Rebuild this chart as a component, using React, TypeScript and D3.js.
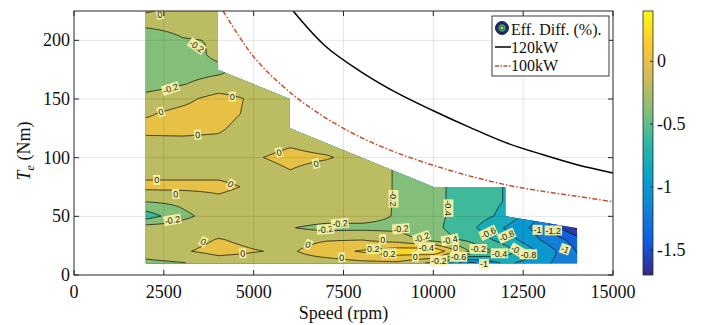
import React from "react";
import * as d3 from "d3";

const W = 707, H = 325;

// grid of measured efficiency differences (%)
const SPEEDS = [2000, 3000, 4000, 5000, 6000, 7000, 8000, 9000, 10000, 11000, 12000, 13000, 14000];
const TORQUES = [10, 20, 30, 40, 50, 62.5, 75, 87.5, 100, 112.5, 125, 137.5, 150, 162.5, 175, 187.5, 200, 212.5, 225];
const EFF_DIFF = [
  [-0.25, -0.21, -0.1, -0.1, -0.1, -0.1, -0.05, -0.04, -0.25, -1.05, -0.75, -0.95, -1.15],
  [-0.1, -0.02, 0.06, 0.01, -0.03, 0.12, 0.22, 0.32, 0.38, -0.22, -0.5, -0.85, -1.22],
  [-0.1, -0.08, 0.01, -0.05, -0.08, -0.02, -0.01, -0.1, -0.3, -0.45, -0.7, -1.02, -1.3],
  [-0.1, -0.1, -0.1, -0.1, -0.19, -0.26, -0.25, -0.25, -0.35, -0.55, -0.82, -1.1, -1.65],
  [-0.5, -0.25, -0.1, -0.1, -0.1, -0.1, -0.12, -0.22, -0.35, -0.5, -0.65, -1.05, -1.62],
  [-0.19, -0.15, -0.05, -0.1, -0.1, -0.1, -0.1, -0.22, -0.35, -0.5, -0.61, -1.02, -1.3],
  [0.05, 0.05, 0.05, -0.033, -0.1, -0.1, -0.1, -0.22, -0.35, -0.5, -0.61, -1.02, -1.3],
  [-0.06, -0.06, -0.06, -0.1, -0.01, -0.1, -0.1, -0.22, -0.35, -0.5, -0.61, -1.02, -1.3],
  [-0.1, -0.1, -0.1, -0.02, 0.06, 0.02, -0.08, -0.22, -0.35, -0.5, -0.61, -1.02, -1.3],
  [-0.05, -0.05, -0.05, -0.1, -0.03, -0.1, -0.1, -0.22, -0.35, -0.5, -0.61, -1.02, -1.3],
  [0.05, 0.06, 0.03, -0.1, -0.1, -0.1, -0.1, -0.22, -0.35, -0.5, -0.61, -1.02, -1.3],
  [-0.02, 0.05, 0.08, -0.05, -0.1, -0.1, -0.1, -0.22, -0.35, -0.5, -0.61, -1.02, -1.3],
  [-0.12, -0.05, 0.07, -0.03, -0.1, -0.1, -0.1, -0.22, -0.35, -0.5, -0.61, -1.02, -1.3],
  [-0.3, -0.21, -0.12, -0.1, -0.1, -0.1, -0.1, -0.22, -0.35, -0.5, -0.61, -1.02, -1.3],
  [-0.3, -0.28, -0.25, -0.1, -0.1, -0.1, -0.1, -0.22, -0.35, -0.5, -0.61, -1.02, -1.3],
  [-0.3, -0.3, -0.15, -0.1, -0.1, -0.1, -0.1, -0.22, -0.35, -0.5, -0.61, -1.02, -1.3],
  [-0.3, -0.21, -0.19, -0.1, -0.1, -0.1, -0.1, -0.22, -0.35, -0.5, -0.61, -1.02, -1.3],
  [-0.18, -0.15, -0.12, -0.1, -0.1, -0.1, -0.1, -0.22, -0.35, -0.5, -0.61, -1.02, -1.3],
  [0.03, -0.1, -0.1, -0.1, -0.1, -0.1, -0.1, -0.22, -0.35, -0.5, -0.61, -1.02, -1.3],
];
const LEVELS = [-1.6, -1.4, -1.2, -1.0, -0.8, -0.6, -0.4, -0.2, 0, 0.2];

// measured region outline
const REGION_SPEED = [2000, 2000, 4000, 4000, 6000, 6000, 10000, 12000, 12000, 14000, 14000];
const REGION_TORQUE = [10, 225, 225, 175, 150, 125, 75, 75, 50, 40, 10];

// power curves
const P120_SPEED = [6100, 7000, 8000, 9000, 10000, 11000, 12000, 13000, 14000, 15000];
const P120_TORQUE = [225, 195, 173, 155, 140, 126, 113, 103, 94, 87];
const P100_SPEED = [4150, 5000, 6000, 7000, 8000, 9000, 10000, 11000, 12000, 13000, 14000, 15000];
const P100_TORQUE = [225, 186, 156, 134, 117, 104, 93.5, 84.5, 77, 71.5, 67, 62.5];

const X_TICKS = [0, 2500, 5000, 7500, 10000, 12500, 15000];
const Y_TICKS = [0, 50, 100, 150, 200];
const CB_TICKS = [0, -0.5, -1, -1.5];
const CB_LABELS = ["0", "-0.5", "-1", "-1.5"];
const CB_MIN = -1.7, CB_MAX = 0.4;
const PARULA = ["#352a87", "#0f5cdd", "#1481d6", "#06a4ca", "#2eb7a4", "#87bf77", "#d1bb59", "#fec832", "#f9fb0e"];

// contour labels
const LABEL_SPEED = [2390, 3415, 2690, 2420, 4405, 3440, 5705, 6735, 2300, 4360, 2830, 2740, 3600, 4695, 7000, 7400, 6520, 7450, 8890, 9100, 9676, 8590, 8330, 8775, 9800, 9500, 10150, 10420, 10465, 10700, 10620, 11530, 12040, 12900, 13340, 13665, 11253, 11840, 12370, 12645, 11410];
const LABEL_TORQUE = [222, 195, 159, 139, 152, 119.5, 104.5, 95, 81, 77.5, 69, 47, 28.5, 18.5, 39, 44, 26, 15, 65, 39.5, 32, 30.5, 22, 18.5, 23.5, 15.5, 12.5, 57, 30, 15.5, 23.5, 36, 33.5, 38.5, 38, 22, 22.2, 18.5, 20.5, 17.7, 9.5];
const LABEL_TEXT = ["0", "-0.2", "-0.2", "0", "0", "0", "0", "0", "0", "0", "0", "-0.2", "0", "0", "-0.2", "-0.2", "0", "0", "-0.2", "-0.2", "-0.2", "0", "0.2", "0.2", "-0.4", "0", "-0.2", "-0.4", "-0.4", "-0.6", "0", "-0.6", "-0.8", "-1", "-1.2", "-1", "-0.2", "-0.4", "-0.6", "-0.8", "-1"];
const LABEL_ANGLE = [-10, 35, -18, -18, 0, -5, -15, -15, 0, 35, -5, -10, 30, -5, -5, -5, 25, -5, 90, -5, -20, 0, 0, 0, 0, 0, 0, 90, -10, 0, 0, -25, -25, 0, 0, 20, 0, 0, 30, 0, 0];

const L = 74, R = 613, T = 11, B = 275;

export default function App() {
  const x = d3.scaleLinear().domain([0, 15000]).range([L, R]);
  const y = d3.scaleLinear().domain([0, 225]).range([B, T]);
  const cbY = d3.scaleLinear().domain([CB_MIN, CB_MAX]).range([B, T]);
  const colorScale = d3
    .scaleLinear<string>()
    .domain(PARULA.map((_, i) => CB_MIN + (i / (PARULA.length - 1)) * (CB_MAX - CB_MIN)))
    .range(PARULA)
    .interpolate(d3.interpolateRgb)
    .clamp(true);

  const interp = (s: number, t: number) => {
    const sc = Math.max(SPEEDS[0], Math.min(SPEEDS[SPEEDS.length - 1], s));
    const tc = Math.max(TORQUES[0], Math.min(TORQUES[TORQUES.length - 1], t));
    let i = d3.bisectRight(SPEEDS, sc) - 1;
    i = Math.max(0, Math.min(i, SPEEDS.length - 2));
    let j = d3.bisectRight(TORQUES, tc) - 1;
    j = Math.max(0, Math.min(j, TORQUES.length - 2));
    const fx = (sc - SPEEDS[i]) / (SPEEDS[i + 1] - SPEEDS[i]);
    const fy = (tc - TORQUES[j]) / (TORQUES[j + 1] - TORQUES[j]);
    const v00 = EFF_DIFF[j][i], v10 = EFF_DIFF[j][i + 1];
    const v01 = EFF_DIFF[j + 1][i], v11 = EFF_DIFF[j + 1][i + 1];
    return v00 * (1 - fx) * (1 - fy) + v10 * fx * (1 - fy) + v01 * (1 - fx) * fy + v11 * fx * fy;
  };

  const s0 = 1800, ds = 40, s1 = 14200;
  const t0 = 6, dt = 0.5, t1 = 229;
  const nx = Math.round((s1 - s0) / ds) + 1;
  const ny = Math.round((t1 - t0) / dt) + 1;
  const values = new Array(nx * ny);
  for (let jj = 0; jj < ny; jj++) {
    for (let ii = 0; ii < nx; ii++) {
      values[jj * nx + ii] = interp(s0 + ii * ds, t0 + jj * dt);
    }
  }
  const contours = d3.contours().size([nx, ny]).thresholds(LEVELS)(values);
  const proj = d3.geoTransform({
    point(px: number, py: number) {
      (this as any).stream.point(x(s0 + px * ds), y(t0 + py * dt));
    },
  });
  const cpath = d3.geoPath(proj);

  const regionPts = REGION_SPEED.map((s, i) => [x(s), y(REGION_TORQUE[i])] as [number, number]);
  const regionD = d3.line()(regionPts) + "Z";

  const lineGen = d3.line<[number, number]>().x((d) => x(d[0])).y((d) => y(d[1])).curve(d3.curveCatmullRom);
  const p120 = lineGen(P120_SPEED.map((s, i) => [s, P120_TORQUE[i]]));
  const p100 = lineGen(P100_SPEED.map((s, i) => [s, P100_TORQUE[i]]));

  const serif = "'Liberation Serif', 'Times New Roman', serif";
  const sans = "'Liberation Sans', Arial, sans-serif";
  const charW = (c: string) => (c === "-" ? 3 : c === "." ? 2.5 : 5);

  return (
    <svg width={W} height={H} style={{ position: "absolute", left: 0, top: 0, background: "#fff" }}>
      <defs>
        <clipPath id="region">
          <path d={regionD} />
        </clipPath>
        <clipPath id="plot">
          <rect x={L} y={T} width={R - L} height={B - T} />
        </clipPath>
        <linearGradient id="cbgrad" x1="0" y1="1" x2="0" y2="0">
          {PARULA.map((c, i) => (
            <stop key={i} offset={i / (PARULA.length - 1)} stopColor={c} />
          ))}
        </linearGradient>
      </defs>

      {/* contour fills */}
      <g clipPath="url(#region)">
        <path d={regionD} fill={colorScale(CB_MIN)} />
        {contours.map((c, i) => (
          <path key={"f" + i} d={cpath(c as any) || ""} fill={colorScale(c.value)} stroke="none" />
        ))}
        {contours.map((c, i) => (
          <path key={"l" + i} d={cpath(c as any) || ""} fill="none" stroke="#000" strokeWidth={0.7} />
        ))}
      </g>

      {/* grid */}
      <g>
        {X_TICKS.slice(1, -1).map((v) => (
          <line key={"gx" + v} x1={x(v)} x2={x(v)} y1={T} y2={B} stroke="#000" strokeOpacity={0.13} strokeWidth={0.8} />
        ))}
        {Y_TICKS.slice(1).map((v) => (
          <line key={"gy" + v} x1={L} x2={R} y1={y(v)} y2={y(v)} stroke="#000" strokeOpacity={0.13} strokeWidth={0.8} />
        ))}
      </g>

      {/* contour labels */}
      <g fontFamily={sans} fontSize={9}>
        {LABEL_TEXT.map((txt, i) => {
          const w = txt.split("").reduce((a, c) => a + charW(c), 0) + 2;
          return (
            <g key={"lab" + i} transform={`translate(${x(LABEL_SPEED[i])},${y(LABEL_TORQUE[i])}) rotate(${LABEL_ANGLE[i]})`}>
              <rect x={-w / 2} y={-5} width={w} height={10} fill="#f4f1a2" fillOpacity={0.95} />
              <text x={0} y={3.3} textAnchor="middle" fill="#222">
                {txt}
              </text>
            </g>
          );
        })}
      </g>

      {/* power curves */}
      <g clipPath="url(#plot)">
        <path d={p100 || ""} fill="none" stroke="#c0512c" strokeWidth={1.5} strokeDasharray="5,2,1.5,2" />
        <path d={p120 || ""} fill="none" stroke="#000" strokeWidth={1.5} />
      </g>

      {/* axes box and ticks */}
      <rect x={L} y={T} width={R - L} height={B - T} fill="none" stroke="#262626" strokeWidth={1} />
      {X_TICKS.map((v) => (
        <g key={"xt" + v}>
          <line x1={x(v)} x2={x(v)} y1={B} y2={B - 5} stroke="#262626" />
          <line x1={x(v)} x2={x(v)} y1={T} y2={T + 5} stroke="#262626" />
          <text x={x(v)} y={298} textAnchor="middle" fontFamily={serif} fontSize={18} fill="#111">
            {v}
          </text>
        </g>
      ))}
      {Y_TICKS.map((v) => (
        <g key={"yt" + v}>
          <line x1={L} x2={L + 5} y1={y(v)} y2={y(v)} stroke="#262626" />
          <line x1={R} x2={R - 5} y1={y(v)} y2={y(v)} stroke="#262626" />
          <text x={70} y={y(v) + 6} textAnchor="end" fontFamily={serif} fontSize={18} fill="#111">
            {v}
          </text>
        </g>
      ))}
      <text x={(L + R) / 2} y={319} textAnchor="middle" fontFamily={serif} fontSize={18} fill="#111">
        Speed (rpm)
      </text>
      <text transform={`translate(30,${(T + B) / 2 + 8}) rotate(-90)`} textAnchor="middle" fontFamily={serif} fontSize={18} fill="#111">
        <tspan fontStyle="italic">T</tspan>
        <tspan fontStyle="italic" fontSize={12} dy={4}>e</tspan>
        <tspan dy={-4}> (Nm)</tspan>
      </text>

      {/* legend */}
      <g>
        <rect x={492} y={16} width={117} height={60} fill="#fff" stroke="#262626" strokeWidth={0.9} />
        <circle cx={502} cy={28} r={6.5} fill="#2c2e8c" stroke="#000" strokeWidth={0.8} />
        <circle cx={502} cy={28} r={4.2} fill="#27b39c" stroke="#000" strokeWidth={0.8} />
        <circle cx={502} cy={28} r={1.9} fill="#f2e21c" stroke="#000" strokeWidth={0.6} />
        <text x={511} y={34.5} fontFamily={serif} fontSize={16} fill="#111">Eff. Diff. (%).</text>
        <line x1={495} x2={511} y1={47} y2={47} stroke="#000" strokeWidth={1.5} />
        <text x={511} y={52.5} fontFamily={serif} fontSize={16} fill="#111">120kW</text>
        <line x1={495} x2={511} y1={66} y2={66} stroke="#c0512c" strokeWidth={1.5} strokeDasharray="4,1.5,1.5,1.5" />
        <text x={511} y={71} fontFamily={serif} fontSize={16} fill="#111">100kW</text>
      </g>

      {/* colorbar */}
      <g>
        <rect x={643} y={T} width={10} height={B - T} fill="url(#cbgrad)" stroke="#262626" strokeWidth={0.8} />
        {CB_TICKS.map((v, i) => (
          <g key={"cb" + v}>
            <line x1={653} x2={650} y1={cbY(v)} y2={cbY(v)} stroke="#262626" />
            <text x={657} y={cbY(v) + 6} fontFamily={serif} fontSize={18} fill="#111">
              {CB_LABELS[i]}
            </text>
          </g>
        ))}
      </g>
    </svg>
  );
}
